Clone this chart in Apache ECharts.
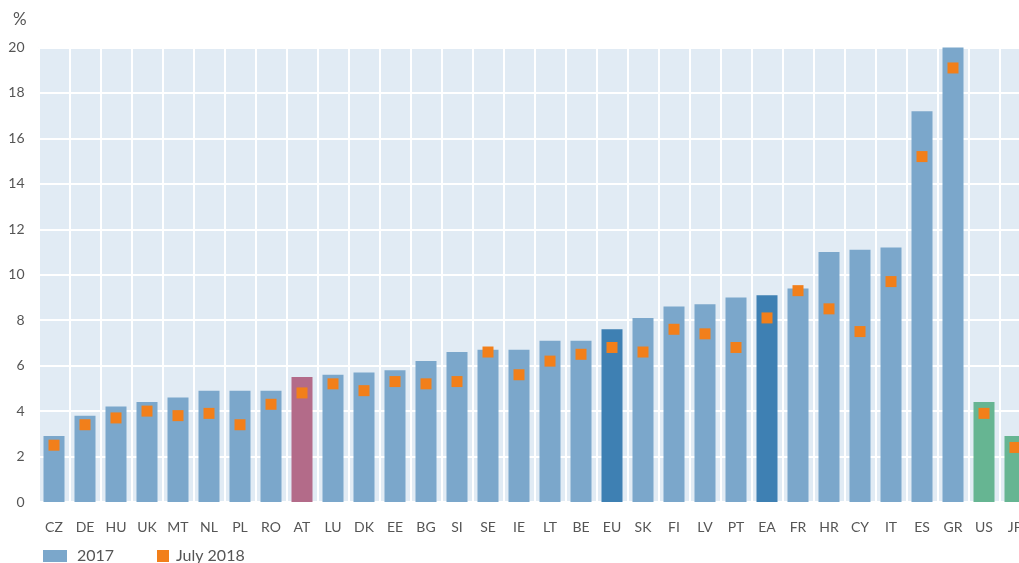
<!DOCTYPE html>
<html>
<head>
<meta charset="utf-8">
<script src="https://cdn.jsdelivr.net/npm/echarts@6/dist/echarts.min.js"></script>
<style>
html,body{margin:0;padding:0;background:#fff;}
#chart{width:1019px;height:563px;}
</style>
</head>
<body>
<div id="chart"></div>
<script>
const categories = ['CZ','DE','HU','UK','MT','NL','PL','RO','AT','LU','DK','EE','BG','SI','SE','IE','LT','BE','EU','SK','FI','LV','PT','EA','FR','HR','CY','IT','ES','GR','US','JP'];
const values2017 = [2.9,3.8,4.2,4.4,4.6,4.9,4.9,4.9,5.5,5.6,5.7,5.8,6.2,6.6,6.7,6.7,7.1,7.1,7.6,8.1,8.6,8.7,9.0,9.1,9.4,11.0,11.1,11.2,17.2,21.5,4.4,2.9];
const valuesJuly2018 = [2.5,3.4,3.7,4.0,3.8,3.9,3.4,4.3,4.8,5.2,4.9,5.3,5.2,5.3,6.6,5.6,6.2,6.5,6.8,6.6,7.6,7.4,6.8,8.1,9.3,8.5,7.5,9.7,15.2,19.1,3.9,2.4];
const yTicks = [0,2,4,6,8,10,12,14,16,18,20];

const aggregateCats = ['EU','EA'];
const highlightCats = ['AT'];
const nonEuCats = ['US','JP'];

const colBase = '#7BA7CB', colAgg = '#3E80B3', colHi = '#B36B89', colNonEu = '#66B592', colOrange = '#F27F1A';
const textCol = '#555555';
const font = 'Lato';

function barColor(c){
  if (aggregateCats.includes(c)) return colAgg;
  if (highlightCats.includes(c)) return colHi;
  if (nonEuCats.includes(c)) return colNonEu;
  return colBase;
}

const chart = echarts.init(document.getElementById('chart'));
chart.setOption({
  animation: false,
  title: { text: '%', left: 8, top: 6, textStyle: { fontFamily: font, fontSize: 17, fontWeight: 'normal', color: textCol } },
  grid: { left: 38.5, top: 47.5, width: 992, height: 454.5, show: true, backgroundColor: '#E1EBF4', borderWidth: 0,
          containLabel: false, outerBoundsMode: 'none' },
  legend: [
    { data: ['2017'], left: 43, top: 548, padding: 0, itemWidth: 24, itemHeight: 12, icon: 'rect',
      textStyle: { fontFamily: font, fontSize: 16, color: textCol, padding: [0,0,0,5] } },
    { data: ['July 2018'], left: 157, top: 548, padding: 0, itemWidth: 12, itemHeight: 12, icon: 'rect',
      textStyle: { fontFamily: font, fontSize: 16, color: textCol, padding: [0,0,0,2] } }
  ],
  xAxis: {
    type: 'category', data: categories, boundaryGap: true,
    axisLine: { show: false }, axisTick: { show: false },
    axisLabel: { interval: 0, margin: 18, fontFamily: font, fontSize: 14, color: textCol },
    splitLine: { show: true, interval: 0, lineStyle: { color: '#ffffff', width: 2 } }
  },
  yAxis: {
    type: 'value', min: 0, max: 20, interval: 2,
    axisLine: { show: false }, axisTick: { show: false },
    axisLabel: { margin: 14, fontFamily: font, fontSize: 14, color: textCol,
      formatter: v => yTicks.includes(v) ? String(v) : '' },
    splitLine: { show: true, lineStyle: { color: '#ffffff', width: 2 } }
  },
  series: [
    { name: '2017', type: 'bar', barWidth: 21, clip: true,
      itemStyle: { color: colBase },
      data: values2017.map((v, i) => ({ value: v, itemStyle: { color: barColor(categories[i]) } })) },
    { name: 'July 2018', type: 'scatter', symbol: 'rect', symbolSize: 11,
      itemStyle: { color: colOrange, opacity: 1 }, z: 5,
      data: valuesJuly2018 }
  ]
});
</script>
</body>
</html>
